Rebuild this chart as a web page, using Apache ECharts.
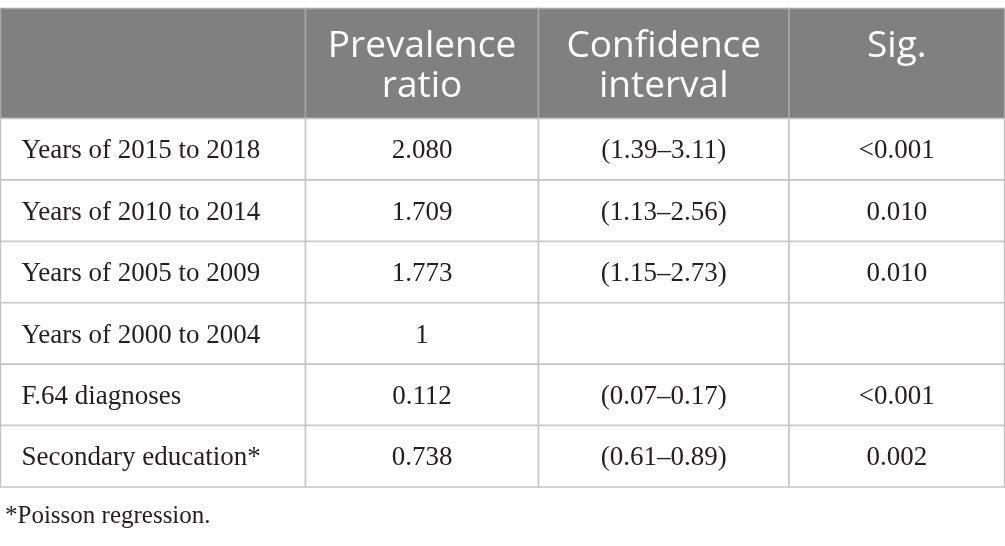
<!DOCTYPE html>
<html>
<head>
<meta charset="utf-8">
<title>Prevalence ratio table</title>
<script src="https://cdn.jsdelivr.net/npm/echarts@6/dist/echarts.min.js"></script>
<style>
  html, body { margin: 0; padding: 0; background: #ffffff; }
  #main { width: 1005px; height: 546px; }
</style>
</head>
<body>
<div id="main"></div>
<script type="text/javascript">
	// table content
	var headers = ['', 'Prevalence\nratio', 'Confidence\ninterval', 'Sig.'];
	var rowLabels = ['Years of 2015 to 2018', 'Years of 2010 to 2014', 'Years of 2005 to 2009',
		'Years of 2000 to 2004', 'F.64 diagnoses', 'Secondary education*'];
	var prevalenceRatio = ['2.080', '1.709', '1.773', '1', '0.112', '0.738'];
	var confInterval = ['(1.39\u20133.11)', '(1.13\u20132.56)', '(1.15\u20132.73)', '', '(0.07\u20130.17)', '(0.61\u20130.89)'];
	var sig = ['<0.001', '0.010', '0.010', '', '<0.001', '0.002'];
	var footnote = '*Poisson regression.';

	// layout (pixel units on the hidden axes)
	var colEdges = [0.5, 305.5, 538.5, 789, 1004.5];
	var rowEdges = [8.5, 118.5, 180, 241.4, 302.8, 364.2, 425.6, 487];

	var cells = [];
	headers.forEach(function (h, c) { cells.push([c, 0, h]); });
	rowLabels.forEach(function (label, i) {
		cells.push([0, i + 1, label]);
		cells.push([1, i + 1, prevalenceRatio[i]]);
		cells.push([2, i + 1, confInterval[i]]);
		cells.push([3, i + 1, sig[i]]);
	});

	var myChart = echarts.init(document.getElementById('main'));
	var option = {
		animation: false,
		backgroundColor: '#ffffff',
		grid: { left: 0, top: 0, right: 0, bottom: 0 },
		xAxis: { type: 'value', min: 0, max: 1005, show: false },
		yAxis: { type: 'value', min: 0, max: 546, inverse: true, show: false },
		title: {
			text: footnote,
			left: 0,
			top: 499,
			textStyle: { fontFamily: 'Liberation Serif', fontSize: 25, fontWeight: 'normal', color: '#231f20' }
		},
		series: [{
			type: 'custom',
			clip: false,
			data: cells,
			renderItem: function (params, api) {
				var c = api.value(0), r = api.value(1);
				var text = cells[params.dataIndex][2];
				var p0 = api.coord([colEdges[c], rowEdges[r]]);
				var p1 = api.coord([colEdges[c + 1], rowEdges[r + 1]]);
				var isHead = r === 0;
				var children = [{
					type: 'rect',
					shape: { x: p0[0], y: p0[1], width: p1[0] - p0[0], height: p1[1] - p0[1] },
					style: {
						fill: isHead ? '#808080' : '#ffffff',
						stroke: isHead ? '#a8a8a8' : '#c4c4c4',
						lineWidth: 1.5
					}
				}];
				if (text) {
					children.push({
						type: 'text',
						z2: 10,
						style: isHead ? {
							x: (p0[0] + p1[0]) / 2,
							y: p0[1] + 18,
							text: text,
							align: 'center',
							verticalAlign: 'top',
							lineHeight: 40,
							fontFamily: 'Open Sans',
							fontSize: 37,
							fill: '#ffffff'
						} : {
							x: c === 0 ? p0[0] + 21 : (p0[0] + p1[0]) / 2,
							y: (p0[1] + p1[1]) / 2 + 2,
							text: text,
							align: c === 0 ? 'left' : 'center',
							verticalAlign: 'middle',
							fontFamily: 'Liberation Serif',
							fontSize: 27,
							fill: '#231f20'
						}
					});
				}
				return { type: 'group', children: children };
			}
		}]
	};
	myChart.setOption(option);
</script>
</body>
</html>
